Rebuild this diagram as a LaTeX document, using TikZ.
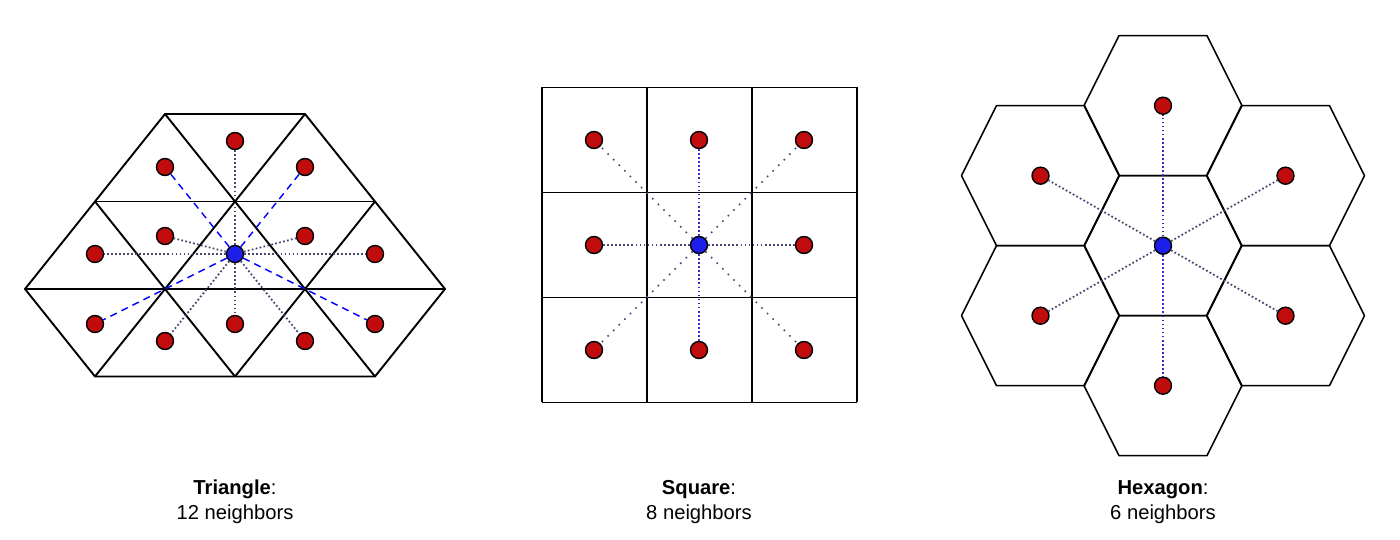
\documentclass[tikz,border=0pt]{standalone}
\usepackage{fontspec}
\setmainfont{Liberation Sans}
\usetikzlibrary{positioning}
\definecolor{nbred}{RGB}{192,12,12}
\definecolor{ctblue}{RGB}{30,30,235}
\definecolor{linkgray}{RGB}{70,70,115}
\definecolor{linkblue}{RGB}{45,45,205}

\begin{document}
\begin{tikzpicture}[
    x=0.02cm, y=-0.02cm,
    cell/.style={draw=black, line width=1.1pt, line join=round},
    dot/.style={circle, draw=black, line width=0.8pt, fill=#1,
                minimum size=0.34cm, inner sep=0pt},
    dot/.default=nbred,
    link/.style={linkgray, line width=1pt, dash pattern=on 1pt off 1.3pt},
    vlink/.style={link, linkblue},
    dlink/.style={blue, line width=0.8pt, dash pattern=on 4pt off 3pt},
    slink/.style={linkgray, line width=0.9pt, dash pattern=on 0.9pt off 3.6pt},
    lbl/.style={font=\fontsize{11.5}{14}\selectfont, align=center},
  ]
  \useasboundingbox (0,0) rectangle (1400,540);

  % Triangle lattice
  \draw[cell] (165,114) -- (305,114) -- (375,201.5) -- (445,289) -- (375,376.5)
    -- (95,376.5) -- (25,289) -- (95,201.5) -- cycle;
  \draw[cell] (95,201.5) -- (375,201.5) (25,289) -- (445,289);
  \draw[cell] (165,114) -- (375,376.5) (95,201.5) -- (235,376.5)
    (305,114) -- (95,376.5) (375,201.5) -- (235,376.5);

  \node[dot=ctblue] (tc) at (235,254) {};
  \foreach \nm/\px/\py in {t1/235/141, t2/165/167, t3/305/167, t4/165/236,
      t5/305/236, t6/95/254, t7/375/254, t8/95/324, t9/165/341,
      t10/235/324, t11/305/341, t12/375/324}
    \node[dot] (\nm) at (\px,\py) {};
  \foreach \nm in {t1,t4,t5,t6,t7,t9,t10,t11}
    \draw[link] (tc) -- (\nm);
  \foreach \nm in {t2,t3,t8,t12}
    \draw[dlink] (tc) -- (\nm);

  % Square grid
  \foreach \gx in {542,647,752,857}
    \draw[cell, line width=0.9pt] (\gx,87.5) -- (\gx,402.5);
  \foreach \gy in {87.5,192.5,297.5,402.5}
    \draw[cell, line width=0.9pt] (542,\gy) -- (857,\gy);

  \node[dot=ctblue] (sc) at (699,245) {};
  \foreach \nm/\px/\py in {sul/594/140, su/699/140, sur/804/140, sl/594/245,
      sr/804/245, sdl/594/350, sd/699/350, sdr/804/350}
    \node[dot] (\nm) at (\px,\py) {};
  \draw[vlink] (sc) -- (su);
  \draw[vlink] (sc) -- (sd);
  \draw[link] (sc) -- (sl);
  \draw[link] (sc) -- (sr);
  \foreach \nm in {sul,sur,sdl,sdr}
    \draw[slink] (sc) -- (\nm);

  % Hexagon cells
  \foreach \cx/\cy in {1163/245.7, 1163/105.7, 1163/385.7, 1040.5/175.7,
      1285.5/175.7, 1040.5/315.7, 1285.5/315.7}
    \draw[cell, line width=0.9pt] (\cx,\cy) ++(-79,0) -- ++(35,-70) -- ++(88,0)
      -- ++(35,70) -- ++(-35,70) -- ++(-88,0) -- cycle;

  \node[dot=ctblue] (hc) at (1163,245.7) {};
  \foreach \nm/\px/\py in {h1/1163/105.7, h2/1285.5/175.7, h3/1285.5/315.7,
      h4/1163/385.7, h5/1040.5/315.7, h6/1040.5/175.7}
    \node[dot] (\nm) at (\px,\py) {};
  \draw[vlink] (hc) -- (h1);
  \draw[vlink] (hc) -- (h4);
  \foreach \nm in {h2,h3,h5,h6}
    \draw[link] (hc) -- (\nm);

  % Captions
  \node[lbl] (tlbl) at (235,502) {\textbf{Triangle}:\\12 neighbors};
  \node[lbl] (slbl) at (699,502) {\textbf{Square}:\\8 neighbors};
  \node[lbl] (hlbl) at (1163,502) {\textbf{Hexagon}:\\6 neighbors};
\end{tikzpicture}
\end{document}
